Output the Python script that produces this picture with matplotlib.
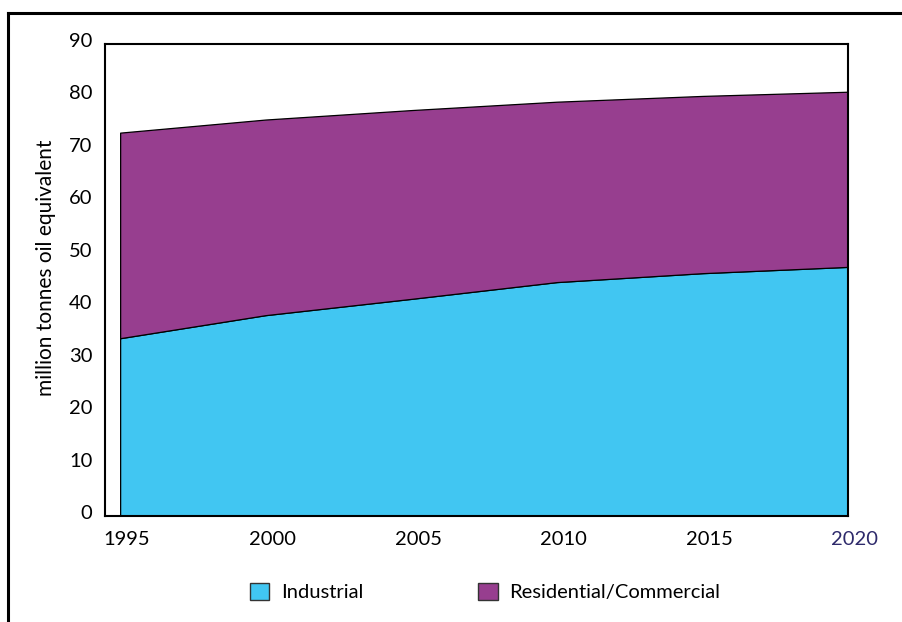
import matplotlib
matplotlib.use("Agg")
import matplotlib.pyplot as plt
import matplotlib.transforms as mtransforms
from matplotlib.lines import Line2D
from matplotlib.patches import Patch

plt.rcParams['font.family'] = ['Lato', 'DejaVu Sans']

years = [1995, 2000, 2005, 2010, 2015, 2020]
industrial = [33.9, 38.3, 41.4, 44.6, 46.3, 47.5]
residential = [39.2, 37.3, 36.0, 34.4, 33.8, 33.4]
series_names = ['Industrial', 'Residential/Commercial']
y_ticks = [0, 10, 20, 30, 40, 50, 60, 70, 80, 90]

c_ind = '#41c6f2'
c_res = '#973e8f'

W, H = 903, 622
fig = plt.figure(figsize=(W / 100, H / 100), dpi=100)
ax = fig.add_axes([105 / W, 1 - 516 / H, (848 - 105) / W, (516 - 44) / H])

ax.stackplot(years, industrial, residential, colors=[c_ind, c_res],
             edgecolor='black', linewidth=0.9)

ax.set_xlim(1994.48, 2020)
ax.set_ylim(0, 90)
ax.set_yticks(y_ticks)
ax.set_xticks(years)
ax.tick_params(length=0, labelsize=14.5, pad=11)
ax.tick_params(axis='y', pad=9)
for s in ax.spines.values():
    s.set_linewidth(1.5)
    s.set_color('black')

# tick labels sit slightly off the data positions in the original
dx = mtransforms.ScaledTranslation(7 / 100, 0, fig.dpi_scale_trans)
for lab in ax.get_xticklabels():
    lab.set_transform(lab.get_transform() + dx)
ax.get_xticklabels()[-1].set_color('#2e2a6b')
dy = mtransforms.ScaledTranslation(0, 4 / 100, fig.dpi_scale_trans)
for lab in ax.get_yticklabels():
    lab.set_transform(lab.get_transform() + dy)

fig.text(46 / W, 1 - 268 / H, 'million tonnes oil equivalent', rotation=90,
         ha='center', va='center', fontsize=15)

handles = [Patch(facecolor=c_ind, edgecolor='#333333', linewidth=1),
           Patch(facecolor=c_res, edgecolor='#333333', linewidth=1)]
fig.legend(handles, series_names, loc='center left',
           bbox_to_anchor=(250 / W, 1 - 592 / H), ncol=2, frameon=False,
           fontsize=14.5, handlelength=0.95, handleheight=0.95,
           handletextpad=0.6, columnspacing=5.7, borderpad=0, borderaxespad=0)

# outer frame (top and left edges visible)
fig.add_artist(Line2D([8 / W, 1], [1 - 13 / H, 1 - 13 / H],
                      transform=fig.transFigure, color='black', linewidth=2.2))
fig.add_artist(Line2D([8 / W, 8 / W], [0, 1 - 13 / H],
                      transform=fig.transFigure, color='black', linewidth=2.2))

fig.savefig('out.png', dpi=100)
